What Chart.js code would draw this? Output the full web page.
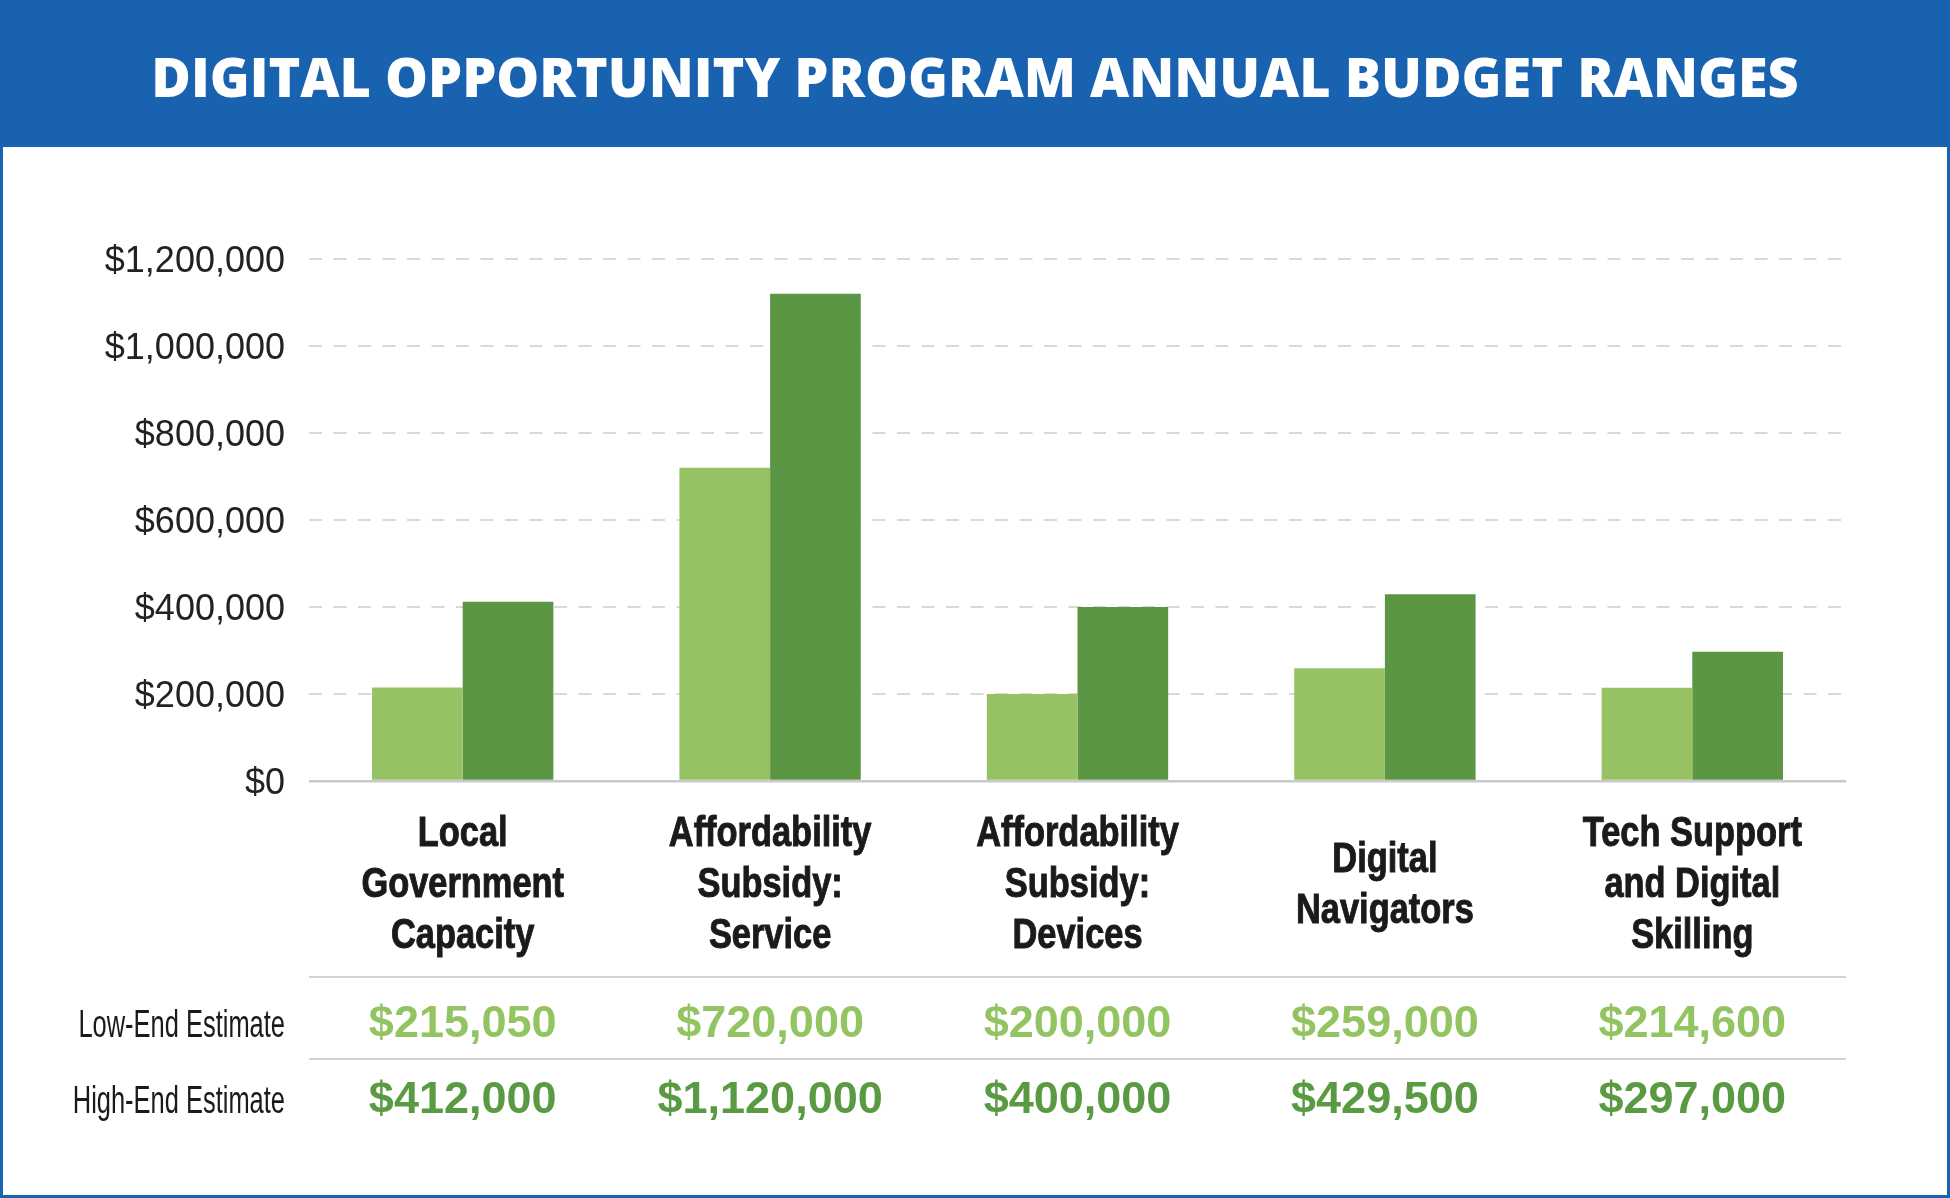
<!DOCTYPE html>
<html lang="en">
<head>
    <meta charset="UTF-8">
    <title>Digital Opportunity Program Annual Budget Ranges</title>
    <script src="https://cdn.jsdelivr.net/npm/chart.js"></script>
    <style>
        html, body {
            margin: 0;
            padding: 0;
            background: #ffffff;
        }
        #frame {
            position: absolute;
            left: 0;
            top: 0;
            width: 1950px;
            height: 1198px;
            box-sizing: border-box;
            border: 3px solid #1a63b0;
            background: #ffffff;
        }
        #header {
            position: absolute;
            left: 0;
            top: 0;
            width: 1950px;
            height: 147px;
            background: #1862b0;
            color: #ffffff;
            font-family: "Open Sans", Arial, sans-serif;
            font-weight: 800;
            font-size: 54px;
            line-height: 152px;
            text-align: center;
            white-space: nowrap;
        }
        #chartBox {
            position: absolute;
            left: 3px;
            top: 147px;
            width: 1944px;
            height: 1048px;
        }
    </style>
</head>
<body>
<div id="frame"></div>
<div id="header"><span id="title">DIGITAL OPPORTUNITY PROGRAM ANNUAL BUDGET RANGES</span></div>
<div id="chartBox">
    <canvas id="budgetChart"></canvas>
</div>
<script>
    // Chart values
    const categories = [
        ['Local', 'Government', 'Capacity'],
        ['Affordability', 'Subsidy:', 'Service'],
        ['Affordability', 'Subsidy:', 'Devices'],
        ['Digital', 'Navigators'],
        ['Tech Support', 'and Digital', 'Skilling']
    ];
    const lowEnd = [215050, 720000, 200000, 259000, 214600];
    const highEnd = [412000, 1120000, 400000, 429500, 297000];
    const yTicks = [0, 200000, 400000, 600000, 800000, 1000000, 1200000];
    const rowLabels = ['Low-End Estimate', 'High-End Estimate'];

    const lightGreen = '#97c264';
    const darkGreen = '#5b9645';
    const textLight = '#93c462';
    const textDark = '#5a9a42';

    const money = v => '$' + v.toLocaleString('en-US');

    // condensed text: no narrow font installed, so squeeze a normal one
    function squeezedText(ctx, text, x, y, sx, stroke) {
        ctx.save();
        ctx.translate(x, y);
        ctx.scale(sx, 1);
        if (stroke) ctx.strokeText(text, 0, 0);
        ctx.fillText(text, 0, 0);
        ctx.restore();
    }

    // category labels + value table below the bars
    const tablePlugin = {
        id: 'budgetTable',
        afterDraw(chart) {
            const ctx = chart.ctx;
            const area = chart.chartArea;
            const x = chart.scales.x;
            const sep1 = area.bottom + 196;
            const sep2 = area.bottom + 278;

            ctx.save();
            ctx.textBaseline = 'alphabetic';

            // category names, centred on 3 lines
            ctx.font = 'bold 43px "Liberation Sans", Arial, sans-serif';
            ctx.fillStyle = '#1a1a1a';
            ctx.strokeStyle = '#1a1a1a';
            ctx.lineWidth = 1;
            ctx.textAlign = 'center';
            categories.forEach((lines, i) => {
                const cx = x.getPixelForValue(i);
                lines.forEach((line, j) => {
                    const y = area.bottom + 116 + (j - (lines.length - 1) / 2) * 51;
                    squeezedText(ctx, line, cx, y, 0.8, true);
                });
            });

            ctx.strokeStyle = '#d3d3d3';
            ctx.lineWidth = 2;
            [sep1, sep2].forEach(y => {
                ctx.beginPath();
                ctx.moveTo(area.left, y);
                ctx.lineTo(area.right, y);
                ctx.stroke();
            });

            const rows = [
                { label: rowLabels[0], data: lowEnd, color: textLight, base: area.bottom + 256 },
                { label: rowLabels[1], data: highEnd, color: textDark, base: area.bottom + 332 }
            ];
            rows.forEach(row => {
                ctx.font = '400 38px "Liberation Sans", Arial, sans-serif';
                ctx.fillStyle = '#1a1a1a';
                ctx.textAlign = 'right';
                squeezedText(ctx, row.label, area.left - 24, row.base, 0.67, false);

                ctx.font = 'bold 45px "Liberation Sans", Arial, sans-serif';
                ctx.fillStyle = row.color;
                ctx.textAlign = 'center';
                row.data.forEach((v, i) => {
                    ctx.fillText(money(v), x.getPixelForValue(i), row.base);
                });
            });
            ctx.restore();
        }
    };

    const ctx = document.getElementById('budgetChart').getContext('2d');
    const budgetChart = new Chart(ctx, {
        type: 'bar',
        data: {
            labels: categories.map(c => c.join(' ')),
            datasets: [{
                label: rowLabels[0],
                data: lowEnd,
                backgroundColor: lightGreen,
                borderWidth: 0
            }, {
                label: rowLabels[1],
                data: highEnd,
                backgroundColor: darkGreen,
                borderWidth: 0
            }]
        },
        options: {
            responsive: true,
            maintainAspectRatio: false,
            animation: false,
            devicePixelRatio: 1,
            categoryPercentage: 0.59,
            barPercentage: 1.0,
            layout: {
                padding: { top: 112, right: 101, left: 0, bottom: 0 }
            },
            plugins: {
                legend: { display: false },
                tooltip: { enabled: false }
            },
            scales: {
                x: {
                    grid: { display: false },
                    border: { display: false },
                    ticks: { display: false },
                    afterFit: s => { s.height = 414; }
                },
                y: {
                    min: 0,
                    max: 1200000,
                    border: {
                        display: false,
                        dash: c => (c.tick && c.tick.value === 0) ? [] : [13, 11.5]
                    },
                    grid: {
                        drawTicks: false,
                        color: c => (c.tick && c.tick.value === 0) ? '#c9c9c9' : '#d9d9d9',
                        lineWidth: c => (c.tick && c.tick.value === 0) ? 2.5 : 2
                    },
                    afterBuildTicks: s => { s.ticks = yTicks.map(v => ({ value: v })); },
                    afterFit: s => { s.width = 306; },
                    ticks: {
                        color: '#222222',
                        font: { family: '"Liberation Sans", Arial, sans-serif', size: 36 },
                        padding: 24,
                        labelOffset: 3,
                        callback: v => money(v)
                    }
                }
            }
        },
        plugins: [tablePlugin]
    });
</script>
</body>
</html>
